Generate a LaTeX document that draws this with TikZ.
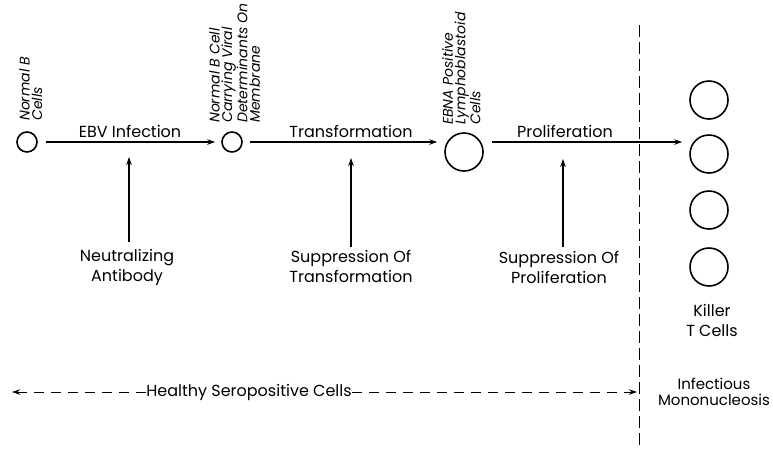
\documentclass[tikz,border=0pt]{standalone}
\usepackage{fontspec}
\setmainfont{Poppins}
\usetikzlibrary{arrows.meta}

\begin{document}
\begin{tikzpicture}[x=1pt,y=-1pt,>={Stealth[length=8pt,width=5.5pt]},
  cell/.style={draw,circle,line width=1.6pt,inner sep=0pt},
  flow/.style={->,line width=1.3pt},
  check/.style={->,line width=1.1pt},
  tag/.style={font=\fontsize{14}{12.5}\selectfont\itshape,rotate=90,
    anchor=north west,align=left,inner sep=0pt},
  lbl/.style={font=\fontsize{16}{20}\selectfont,align=center,inner sep=0pt}]
\useasboundingbox (0,0) rectangle (773,451);

% The cells
\node[cell,minimum size=20] (nb) at (27,142) {};
\node[cell,minimum size=20] (vc) at (232,142) {};
\node[cell,minimum size=38] (lc) at (464,152) {};
\foreach \i/\yy in {1/100,2/154,3/210,4/267}
  \node[cell,minimum size=38] (kt\i) at (709,\yy) {};

% The cell names
\node[tag] (nbtag) at (19,121) {Normal B\\Cells};
\node[tag] (vctag) at (209,123) {Normal B Cell\\Carrying Viral\\Determinants On\\Membrane};
\node[tag] (lctag) at (442,125) {EBNA Positive\\Lymphoblastoid\\Cells};

% The steps
\draw[flow,shorten <=8pt,shorten >=6pt] (nb) -- (vc);
\draw[flow,shorten <=7pt,shorten >=7pt] (vc.east) -- (vc.east -| lc.west);
\draw[flow,shorten <=8pt,shorten >=7pt] (lc.east |- vc) -- (kt2.west |- vc);
\node[lbl,anchor=base] (ebv) at (130,137) {EBV Infection};
\node[lbl,anchor=base] (tf) at (351,137) {Transformation};
\node[lbl,anchor=base] (pf) at (565,137) {Proliferation};

% The checks
\coordinate (t1) at (129,157);
\coordinate (t2) at (351,158);
\coordinate (t3) at (563,159);
\node[lbl,anchor=north] (na) at (127,249) {Neutralizing\\Antibody};
\node[lbl,anchor=north] (st) at (351,250) {Suppression Of\\Transformation};
\node[lbl,anchor=north] (sp) at (559,251) {Suppression Of\\Proliferation};
\draw[check,shorten <=7pt] (na.north -| t1) -- (t1);
\draw[check,shorten <=3pt] (st.north -| t2) -- (t2);
\draw[check,shorten <=4pt] (sp.north -| t3) -- (t3);
\node[lbl,anchor=north] (kl) at (712,304) {Killer\\T Cells};

% The two stages
\coordinate (vt) at (639,25);
\coordinate (vb) at (639,447);
\draw[line width=0.9pt,dash pattern=on 12pt off 5pt] (vt) -- (vb);
\node[lbl] (hs) at (249,392) {Healthy Seropositive Cells};
\coordinate (hl) at (12,392);
\coordinate (hr) at (637,392);
\draw[->,line width=1pt,dash pattern=on 10pt off 7pt] (hs.west) -- (hl);
\draw[->,line width=1pt,dash pattern=on 10pt off 7pt] (hs.east) -- (hr);
\node[lbl,font=\fontsize{15}{16}\selectfont] (im) at (714,392) {Infectious\\Mononucleosis};
\end{tikzpicture}
\end{document}
